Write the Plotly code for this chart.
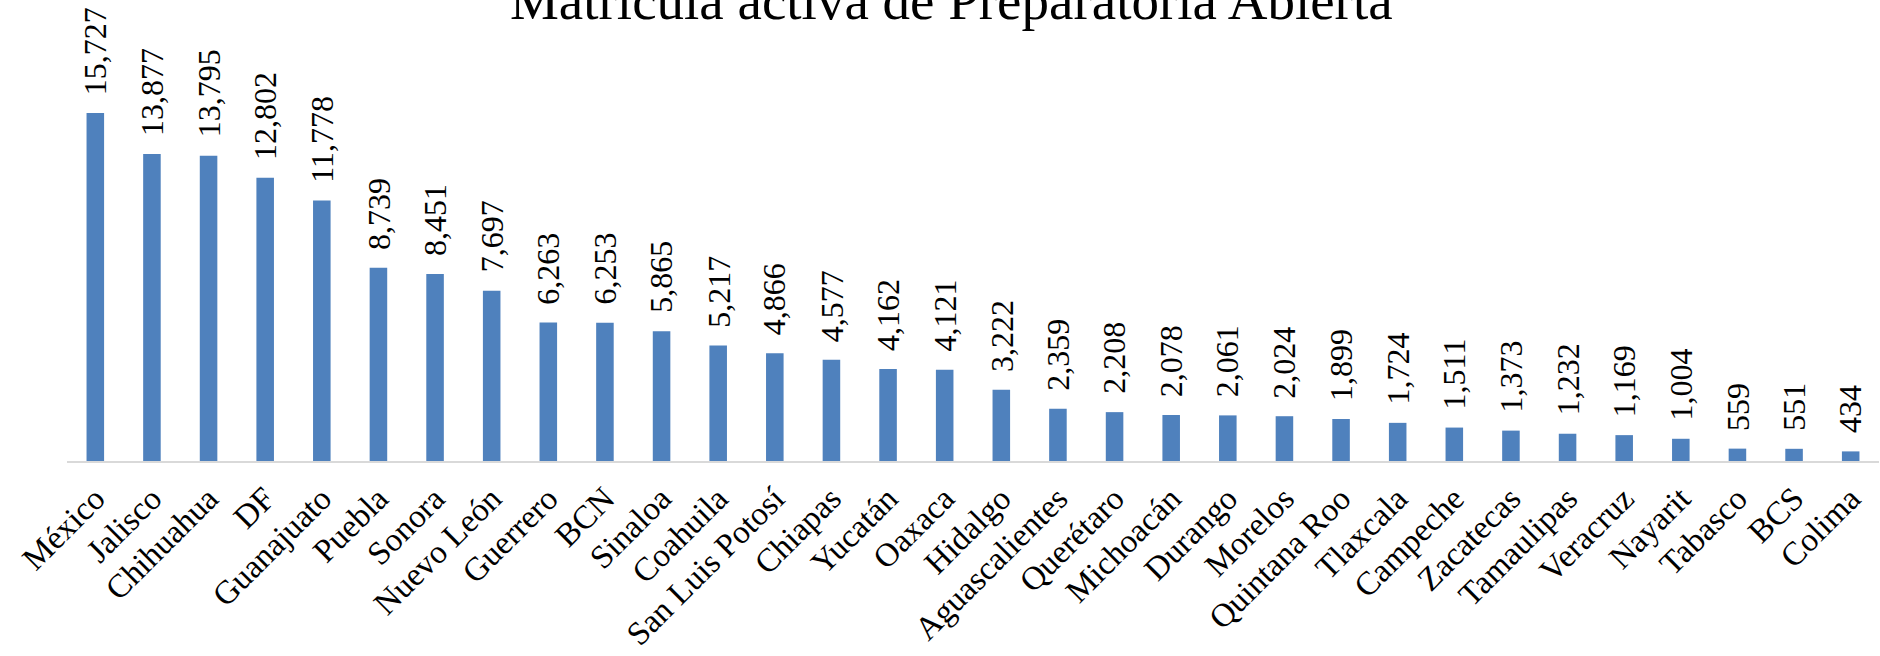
import plotly.graph_objects as go

estados = ["México", "Jalisco", "Chihuahua", "DF", "Guanajuato", "Puebla", "Sonora",
           "Nuevo León", "Guerrero", "BCN", "Sinaloa", "Coahuila", "San Luis Potosí",
           "Chiapas", "Yucatán", "Oaxaca", "Hidalgo", "Aguascalientes", "Querétaro",
           "Michoacán", "Durango", "Morelos", "Quintana Roo", "Tlaxcala", "Campeche",
           "Zacatecas", "Tamaulipas", "Veracruz", "Nayarit", "Tabasco", "BCS", "Colima"]
matricula = [15727, 13877, 13795, 12802, 11778, 8739, 8451, 7697, 6263, 6253, 5865,
             5217, 4866, 4577, 4162, 4121, 3222, 2359, 2208, 2078, 2061, 2024, 1899,
             1724, 1511, 1373, 1232, 1169, 1004, 559, 551, 434]
titulo = "Matrícula activa de Preparatoria Abierta"

fig = go.Figure()
fig.add_trace(go.Bar(
    x=estados, y=matricula, width=0.31,
    marker=dict(color="#4F81BD", line=dict(width=0)),
    hoverinfo="x+y",
))

annotations = []
for e, v in zip(estados, matricula):
    annotations.append(dict(
        x=e, y=v, xref="x", yref="y", text=f"{v:,}", showarrow=False,
        textangle=-90, yanchor="bottom", xanchor="center", yshift=16,
        font=dict(family="Liberation Serif", size=32, color="#000000"),
    ))

fig.update_layout(
    width=1880, height=656,
    paper_bgcolor="white", plot_bgcolor="white",
    margin=dict(l=67, r=1, t=40, b=195),
    title=dict(text=titulo, x=0.506, xref="container", xanchor="center",
               y=1, yref="container", yanchor="middle",
               font=dict(family="Liberation Serif", size=55, color="#000000")),
    showlegend=False,
    annotations=annotations,
)
fig.update_xaxes(showline=True, linecolor="#D9D9D9", linewidth=2, ticks="",
                 tickangle=-45, showgrid=False, zeroline=False, automargin=False,
                 ticklabelstandoff=3,
                 tickfont=dict(family="Liberation Serif", size=33, color="#000000"))
fig.update_yaxes(visible=False, range=[0, 19026], showgrid=False, zeroline=False)

fig.write_html("out.html", config={"displayModeBar": False},
               post_script="document.body.style.margin='0';document.body.style.overflow='hidden';")
